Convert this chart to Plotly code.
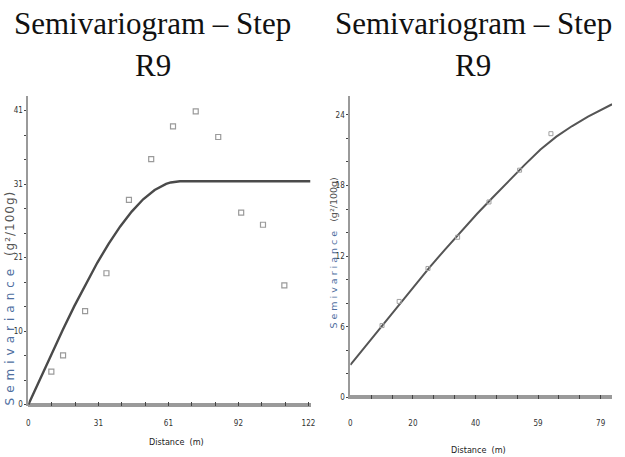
import plotly.graph_objects as go

# ---------------- data ----------------
# Left panel: experimental semivariogram points
left_dist = [10.0, 15.1, 24.7, 34.0, 43.8, 53.5, 63.0, 72.9, 82.7, 92.7, 102.2, 111.5]
left_semi = [4.6, 6.9, 13.1, 18.4, 28.7, 34.4, 39.0, 41.1, 37.5, 26.9, 25.2, 16.7]
# Left panel: fitted model curve
left_model_x = [0, 5, 10, 15, 20, 25, 30, 35, 40, 45, 50, 55, 58, 60, 62, 64, 66, 122.9]
left_model_y = [0, 3.55, 7.06, 10.49, 13.79, 16.94, 19.87, 22.56, 24.97, 27.05, 28.77, 30.08, 30.65, 30.93, 31.13, 31.26, 31.3, 31.3]

# Right panel: experimental semivariogram points
right_dist = [10.0, 15.4, 24.5, 33.85, 43.75, 53.4, 63.3]
right_semi = [6.1, 8.15, 10.95, 13.6, 16.6, 19.3, 22.4]
# Right panel: fitted model curve
right_model_x = [0, 5, 10, 15, 20, 25, 30, 35, 40, 45, 50, 55, 60, 65, 70, 75, 82.6]
right_model_y = [2.75, 4.4, 6.05, 7.75, 9.45, 11.05, 12.6, 14.1, 15.6, 17.0, 18.4, 19.75, 21.05, 22.15, 23.05, 23.85, 24.9]

# Tick values / labels
left_xticks = [0, 10.17, 20.33, 30.5, 40.67, 50.83, 61, 71.17, 81.33, 91.5, 101.67, 111.83, 122]
left_xlabels = ["0", "", "", "31", "", "", "61", "", "", "92", "", "", "122"]
left_yticks = [0, 3.43, 6.87, 10.3, 13.73, 17.17, 20.6, 24.03, 27.47, 30.9, 34.33, 37.77, 41.2]
left_ylabels = ["0", "", "", "10", "", "", "21", "", "", "31", "", "", "41"]
right_xticks = [0, 6.58, 13.17, 19.75, 26.33, 32.92, 39.5, 46.08, 52.67, 59.25, 65.83, 72.42, 79]
right_xlabels = ["0", "", "", "20", "", "", "40", "", "", "59", "", "", "79"]
right_yticks = [0, 2, 4, 6, 8, 10, 12, 14, 16, 18, 20, 22, 24]
right_ylabels = ["0", "", "", "6", "", "", "12", "", "", "18", "", "", "24"]

title_line1 = "Semivariogram – Step"
title_line2 = "R9"
x_title = "Distance&nbsp;&nbsp;(m)"
y_word = "Semivariance"
y_unit = "(g²/100g)"

W, H = 625, 457
def px(x):
    return x / W
def py(y):
    return 1 - y / H

TICKFONT = dict(family="DejaVu Sans Condensed, DejaVu Sans, sans-serif", size=8, color="#333")
LINE_GRAY = "#9a9a9a"

fig = go.Figure()

fig.add_trace(go.Scatter(x=left_model_x, y=left_model_y, mode="lines", line=dict(color="#4a4a4a", width=2.4),
                         xaxis="x", yaxis="y", showlegend=False, hoverinfo="skip"))
fig.add_trace(go.Scatter(x=left_dist, y=left_semi, mode="markers",
                         marker=dict(symbol="square-open", size=5, color="#9a9a9a", line=dict(width=1.2, color="#9a9a9a")),
                         xaxis="x", yaxis="y", showlegend=False))
fig.add_trace(go.Scatter(x=right_model_x, y=right_model_y, mode="lines", line=dict(color="#555555", width=2.0),
                         xaxis="x2", yaxis="y2", showlegend=False, hoverinfo="skip"))
fig.add_trace(go.Scatter(x=right_dist, y=right_semi, mode="markers",
                         marker=dict(symbol="square-open", size=4, color="#a0a0a0", line=dict(width=1, color="#a0a0a0")),
                         xaxis="x2", yaxis="y2", showlegend=False))

common_x = dict(showgrid=False, zeroline=False, showline=False, ticks="inside", ticklen=4, tickwidth=1.3,
                tickcolor="#444", tickfont=TICKFONT, tickmode="array")
common_y = dict(showgrid=False, zeroline=True, zerolinecolor=LINE_GRAY, zerolinewidth=4, showline=True,
                linecolor=LINE_GRAY, linewidth=2, ticks="outside", ticklen=2, tickwidth=1.3, tickcolor="#444",
                tickfont=TICKFONT, tickmode="array")

fig.update_layout(
    width=W, height=H, margin=dict(l=0, r=0, t=0, b=0),
    paper_bgcolor="white", plot_bgcolor="white",
    xaxis=dict(domain=[px(26.7), px(312)], range=[0, 122.9], anchor="y",
               tickvals=left_xticks, ticktext=left_xlabels, ticklabelstandoff=11, **common_x),
    yaxis=dict(domain=[py(409), py(97)], range=[-0.25, 43.2], anchor="x",
               tickvals=left_yticks, ticktext=left_ylabels, ticklabelstandoff=0, **common_y),
    xaxis2=dict(domain=[px(352.3), px(617)], range=[0, 82.6], anchor="y2",
                tickvals=right_xticks, ticktext=right_xlabels, ticklabelstandoff=18, **common_x),
    yaxis2=dict(domain=[py(402), py(97)], range=[-0.17, 25.57], anchor="x2",
                tickvals=right_yticks, ticktext=right_ylabels, ticklabelstandoff=0, **common_y),
)

TFONT = dict(family="Liberation Serif, Times New Roman, serif", size=31, color="#111")
for cx in (152.5, 476.7):
    fig.add_annotation(x=px(cx), y=py(24), xref="paper", yref="paper", text=title_line1, showarrow=False,
                       font=TFONT, xanchor="center", yanchor="middle")
    fig.add_annotation(x=px(cx), y=py(66), xref="paper", yref="paper", text=title_line2, showarrow=False,
                       font=TFONT, xanchor="center", yanchor="middle")

AFONT = dict(family="DejaVu Sans Condensed, DejaVu Sans, sans-serif", size=9, color="#222")
fig.add_annotation(x=px(176), y=py(445), xref="paper", yref="paper", text=x_title, showarrow=False,
                   font=AFONT, xanchor="center", yanchor="middle")
fig.add_annotation(x=px(482), y=py(453), xref="paper", yref="paper", text=x_title, showarrow=False,
                   font=AFONT, xanchor="center", yanchor="middle")

left_ytitle = (f'<span style="color:#4f6f9f;letter-spacing:5px">{y_word}</span>'
               f'&nbsp;&nbsp;<span style="color:#555;letter-spacing:1px">{y_unit}</span>')
right_ytitle = (f'<span style="color:#4f6f9f;letter-spacing:3px">{y_word}</span>'
                f'&nbsp;&nbsp;<span style="color:#555">{y_unit}</span>')
fig.add_annotation(x=px(8.5), y=py(300), xref="paper", yref="paper", text=left_ytitle, showarrow=False,
                   font=dict(family="DejaVu Sans, sans-serif", size=12, color="#555"), textangle=-90,
                   xanchor="center", yanchor="middle")
fig.add_annotation(x=px(335), y=py(255), xref="paper", yref="paper", text=right_ytitle, showarrow=False,
                   font=dict(family="DejaVu Sans, sans-serif", size=9.5, color="#555"), textangle=-90,
                   xanchor="center", yanchor="middle")

fig.write_html("out.html", config={"displayModeBar": False},
               post_script="document.body.style.margin='0';")
